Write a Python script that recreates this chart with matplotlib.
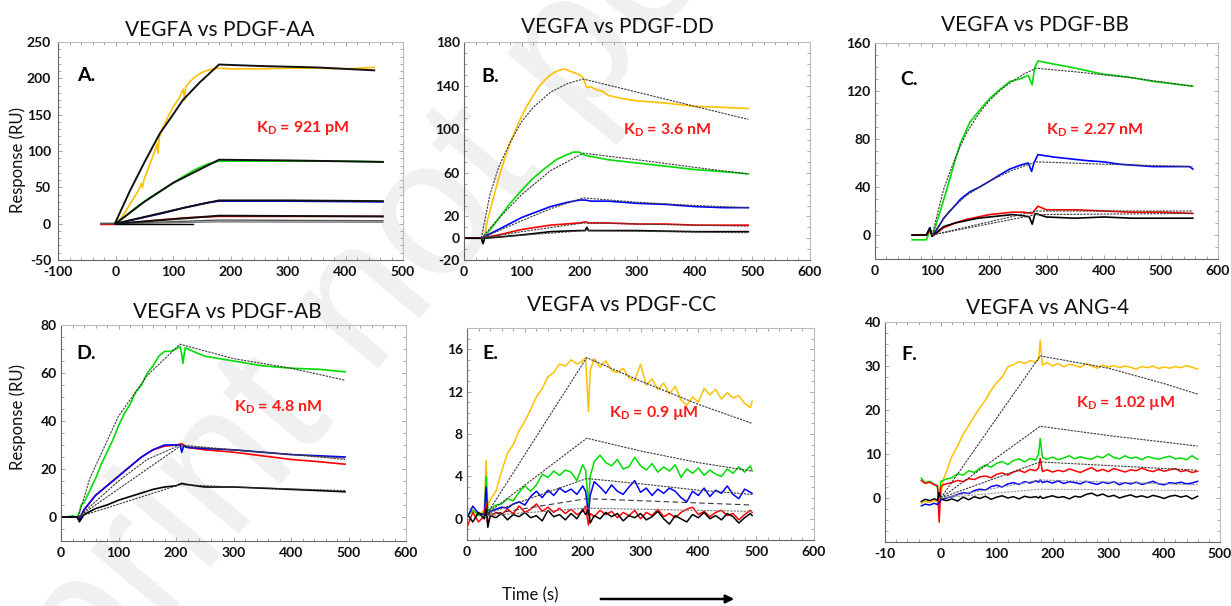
import matplotlib
matplotlib.use('Agg')
import matplotlib.pyplot as plt
from matplotlib.ticker import MultipleLocator, FixedLocator, FixedFormatter

plt.rcParams['font.family'] = ['Lato', 'DejaVu Sans']

YEL, GRN, BLU, RED, BLK = '#FFC000', '#00DD00', '#0000FF', '#FF0000', '#000000'

# ---------------- Panel A: VEGFA vs PDGF-AA ----------------
a_yel_t = [-25,-10,0,10,20,30,40,45,47,50,60,70,72,74,76,80,90,100,110,118,120,122,130,140,150,160,170,180,200,250,300,350,400,450]
a_yel_r = [0,0,0,8,20,33,46,55,50,62,82,104,110,97,118,128,145,160,172,185,170,188,196,203,208,211,213,214,213,213,214,214,213,215]
a_yel_fit_t = [0,25,50,77,100,117,146,180,250,350,450]
a_yel_fit_r = [2,45,84,124,150,170,194,219,217,215,211]
a_grn_t = [-25,0,20,40,60,80,100,120,140,160,180,200,300,400,465]
a_grn_r = [0,0,12,25,36,46,56,66,75,82,86,86,86,86,85]
a_grn_fit_t = [0,50,100,150,180,300,465]
a_grn_fit_r = [0,30,56,76,88,87,85]
a_blu_t = [-25,0,40,80,120,160,180,300,465]
a_blu_r = [0,0,7,14,22,29,31,31,30]
a_blu_fit_t = [0,60,120,180,300,465]
a_blu_fit_r = [0,11,22,32,32,31]
a_red_t = [-25,0,60,120,180,300,465]
a_red_r = [-1,-1,4,8,10,10,10]
a_red_fit_t = [0,180,465]
a_red_fit_r = [0,11,10]
a_low1_t = [-25,0,180,465]
a_low1_r = [0,0,5,4]
a_low2_t = [0,180,465]
a_low2_r = [0,2.5,2]
a_flat_t = [0,135]
a_flat_r = [0,0]

# ---------------- Panel B: VEGFA vs PDGF-DD ----------------
b_yel_t = [0,30,33,36,40,50,60,70,80,90,100,110,120,130,140,150,160,170,175,180,190,200,207,210,213,220,230,240,250,275,300,350,400,450,493]
b_yel_r = [0,0,-5,2,15,35,55,72,87,100,112,122,131,139,145,150,153,155,155,154,152,150,147,142,138,139,136,135,131,128,126,124,121,120,119]
b_yel_fit_t = [30,45,60,80,100,120,150,180,207,300,400,493]
b_yel_fit_r = [0,40,65,88,107,120,134,142,146,134,121,109]
b_grn_t = [0,30,33,40,60,80,100,120,140,160,180,190,200,207,210,220,250,300,350,400,450,493]
b_grn_r = [0,0,-1,4,18,32,44,55,64,72,77,79,79,77,76,75,72,69,66,63,61,59]
b_grn_fit_t = [30,60,100,150,207,300,400,493]
b_grn_fit_r = [0,18,40,62,78,72,65,59]
b_blu_t = [0,30,60,100,150,180,200,210,220,250,300,350,400,450,493]
b_blu_r = [0,0,8,19,29,33,35,35,34,34,32,31,29,28,28]
b_blu_fit_t = [30,100,150,207,300,400,493]
b_blu_fit_r = [0,16,27,37,33,30,28]
b_red_t = [0,30,60,100,150,200,212,215,250,300,350,400,450,493]
b_red_r = [0,0,3,8,12,14,15,14,14,13,13,12,12,12]
b_red_fit_t = [30,100,207,300,493]
b_red_fit_r = [0,6,14,13,11]
b_blk_t = [0,30,33,36,60,100,150,200,210,213,216,230,300,400,493]
b_blk_r = [0,0,-5,0,1,3,6,7,7,10,7,7,7,6,6]
b_blk_fit_t = [30,210,493]
b_blk_fit_r = [0,7,5]

# ---------------- Panel C: VEGFA vs PDGF-BB ----------------
c_grn_t = [65,90,96,100,105,113,125,137,149,166,183,201,218,236,253,268,275,279,285,312,341,370,399,428,457,486,521,556]
c_grn_r = [-4,-4,4,-1,6,18,37,57,76,94,104,114,121,128,130,133,125,139,145,142.5,140,137,134,132.5,130.5,128,126,124]
c_grn_fit_t = [100,120,140,160,180,200,220,240,260,282,350,450,556]
c_grn_fit_r = [0,38,64,85,100,112,121,128,134,139,136,131,124]
c_blu_t = [65,90,96,100,110,120,137,150,166,183,201,218,236,253,268,274,278,285,312,341,370,399,428,457,486,521,550,556]
c_blu_r = [0,0,6,-1,6,14,23,30,36,40,45,50,55,58,60,53,60,67,65,63.5,62,61,59,58,57,57,57,55]
c_blu_fit_t = [100,130,160,200,240,282,400,556]
c_blu_fit_r = [0,20,33,45,54,61,59,57]
c_red_t = [65,90,96,100,120,140,160,180,200,220,240,260,275,285,300,350,400,450,500,556]
c_red_r = [0,0,4,-1,6,10,13,15,17,18,19,19,18,24,21,21,20,19,19,18]
c_red_fit_t = [100,282,556]
c_red_fit_r = [0,20,20]
c_blk_t = [65,90,96,100,120,140,160,180,200,220,240,260,270,275,280,300,350,400,450,500,556]
c_blk_r = [0,0,6,-1,7,10,12,14,15,16,17,16,15,9,18,15,14,15,14,14,14]
c_blk_fit_t = [100,282,556]
c_blk_fit_r = [0,17,18]

# ---------------- Panel D: VEGFA vs PDGF-AB ----------------
d_grn_t = [0,10,20,28,32,35,40,50,60,70,80,90,100,110,120,130,140,150,160,170,180,190,200,207,210,212,216,230,250,300,350,400,450,494]
d_grn_r = [0,0,0.5,0,2,5,6,11,16,22,27,32,38,43,47,52,55,60,63,67,69,69,70,71,68,64,70.5,69,67,65,63,62,61.5,60.5]
d_grn_fit_t = [30,50,100,150,207,300,400,494]
d_grn_fit_r = [0,16,42,59,72,66,62,57]
d_blu_t = [0,20,28,32,40,60,80,100,120,140,160,180,200,207,210,213,220,250,300,350,400,450,494]
d_blu_r = [0,0,0,-1,3,9,13,17,21,25,28,30,30,30,27,29.5,29,28.5,28,27,26,25.5,25]
d_red_t = [0,20,28,32,40,60,80,100,120,140,160,180,200,210,220,250,300,350,400,450,494]
d_red_r = [0,0,0,-1,3,9,13,17,21,25,28,29.5,30,30.5,29,28,27,25.5,24,23,22]
d_mid_fit1_t = [30,100,150,207,300,400,494]
d_mid_fit1_r = [0,15,24,30,28,26,24]
d_mid_fit2_t = [30,207,494]
d_mid_fit2_r = [0,29.5,24.5]
d_blk_t = [0,20,28,32,40,60,80,100,120,140,160,180,200,210,220,250,300,350,400,450,494]
d_blk_r = [0,0,0,-2,1,3.5,5,7,8.5,10,11.5,12.5,13,14,13.5,12.5,12.5,12,11.5,11,10.5]
d_blk_fit_t = [30,207,300,494]
d_blk_fit_r = [0,13.5,12.5,11]

# ---------------- Panel E: VEGFA vs PDGF-CC ----------------
e_t = [0,10,20,30,33,36,40,50,60,70,80,90,100,110,120,130,140,150,160,170,180,190,200,205,210,213,
       220,230,240,250,260,270,280,290,300,310,320,330,340,350,360,370,380,390,400,410,420,430,440,450,460,470,480,490,493]
e_yel = [0.3,0.9,0.4,0.8,5.5,1.2,1.8,2.6,4.5,6.2,7.0,8.3,9.2,10.3,11.5,12.3,13.4,13.8,14.6,14.4,15.0,14.6,14.9,15.2,10.1,14.0,
         15.1,14.3,14.9,14.0,13.8,14.2,13.3,13.0,14.6,12.6,13.2,12.2,12.8,11.8,12.5,11.2,10.7,11.5,11.0,12.3,11.7,12.2,11.3,11.9,11.4,11.6,10.9,10.5,11.1]
e_grn = [0.2,0.8,0.3,0.6,4.0,0.8,0.9,1.3,1.4,1.9,1.7,2.5,3.1,2.6,3.2,4.2,3.9,4.5,4.1,4.6,4.4,3.6,5.1,4.6,1.3,4.0,
         5.4,6.0,5.3,5.0,5.6,4.7,4.9,5.8,5.0,4.6,5.2,4.4,4.9,4.5,5.1,3.9,4.7,4.3,4.8,4.1,4.6,4.2,4.0,4.7,4.3,4.9,4.4,5.0,4.5]
e_blu = [0.1,1.2,0.5,0.4,3.0,0.3,0.7,0.9,1.1,1.0,1.4,1.6,1.3,2.1,2.6,2.0,2.7,2.2,2.9,2.5,2.8,2.3,3.1,2.6,0.4,2.2,
         3.5,3.0,2.4,3.2,2.6,2.3,3.0,3.6,2.5,2.9,2.2,2.8,2.4,2.9,2.6,2.0,1.6,2.6,2.2,2.9,2.1,2.7,2.4,3.1,2.3,1.9,2.8,2.5,2.4]
e_red = [-0.8,0.6,-0.3,0.3,1.5,-0.5,0.2,0.6,0.4,0.9,0.5,1.2,0.6,0.9,1.4,0.7,1.1,0.6,1.0,0.5,0.9,0.4,0.7,1.2,-0.6,0.5,
         0.2,0.8,0.4,0.7,0.1,0.6,0.3,0.8,0.0,0.6,0.3,0.9,0.2,0.5,0.1,0.6,0.9,1.1,0.4,0.7,0.2,0.6,0.8,0.3,0.5,-0.1,0.4,0.8,0.6]
e_blk = [0.5,-0.3,0.6,0.0,0.9,-0.8,0.3,0.1,0.5,-0.1,0.4,0.2,0.6,0.1,0.3,-0.2,0.8,0.2,0.4,-0.1,0.5,0.0,0.9,0.4,0.8,-0.4,
         0.3,0.0,0.6,0.2,0.5,-0.2,0.3,0.1,0.5,-0.1,0.2,0.7,0.0,-0.5,0.3,0.0,-0.3,0.4,0.1,0.6,0.0,0.3,-0.1,0.5,0.2,-0.4,0.1,0.5,0.3]
e_fit_t = [35,207,300,400,493]
e_yel_fit = [0.5,15.2,13.0,10.8,9.0]
e_grn_fit = [0.5,7.6,6.4,5.3,4.5]
e_blu_fit = [0.5,3.8,3.3,2.7,2.3]
e_low_fit_t = [35,207,493]
e_red_fit = [0.4,1.9,1.3]
e_blk_fit = [0.3,1.0,0.7]

# ---------------- Panel F: VEGFA vs ANG-4 ----------------
f_t = [-35,-28,-20,-12,-6,-3,0,4,10,
       20,30,40,50,60,70,80,90,100,110,120,130,140,150,160,170,
       175,178,182,190,
       200,210,220,230,240,250,260,270,280,290,300,310,320,330,340,350,360,370,380,390,400,410,420,430,440,450,460]
f_yel = [-1.2,-0.8,-1.0,-0.6,-1.0,-1.5,0.5,4.0,6.0,
         9.5,11.8,14.5,16.5,18.6,20.5,22.3,24.5,26.2,27.5,29.8,30.3,31.0,30.6,31.2,30.9,
         31.5,35.8,30.2,30.8,
         30.0,30.6,29.8,30.4,30.1,29.7,30.5,30.0,29.5,30.2,29.8,30.1,29.6,30.0,29.7,29.3,29.9,29.6,30.0,29.4,29.8,29.5,29.9,29.6,30.1,29.7,29.3]
f_grn = [4.5,3.5,3.8,3.2,2.5,0.0,3.8,4.0,4.3,
         4.6,5.5,5.2,6.2,5.8,6.8,7.5,7.0,7.9,8.3,7.6,8.5,8.9,8.2,9.0,8.6,
         10.0,13.5,9.2,8.8,
         9.3,8.7,9.1,9.6,8.9,9.4,9.0,8.8,9.5,9.1,10.0,9.2,8.9,9.6,9.0,9.3,8.7,9.4,9.1,8.8,9.2,9.5,8.9,9.1,8.7,9.6,8.8]
f_red = [4.0,3.3,3.6,3.0,2.8,-5.5,2.5,3.0,3.2,
         3.5,4.0,3.7,4.4,4.2,4.8,5.0,4.6,5.4,5.7,5.2,5.9,6.3,5.8,6.5,6.2,
         6.8,9.0,6.0,6.4,
         5.9,6.3,6.0,6.6,6.2,5.8,6.4,6.9,6.1,6.5,6.0,6.7,6.3,5.9,6.4,6.2,6.8,6.3,6.0,6.5,6.1,6.4,6.7,6.0,6.3,5.8,6.1]
f_blu = [-1.8,-1.4,-1.6,-1.2,-1.5,-1.0,-0.5,-0.2,0.0,
         0.3,0.8,1.2,1.0,1.7,2.0,1.8,2.6,2.9,2.5,3.2,3.5,3.1,3.7,3.4,3.9,
         3.6,4.1,3.5,3.8,
         3.4,3.9,3.3,3.7,3.5,3.2,3.8,3.4,3.1,3.6,3.3,3.7,3.0,3.5,3.2,3.6,3.1,3.4,3.8,3.2,3.0,3.5,3.3,3.6,3.2,3.4,3.8]
f_blk = [-0.8,-0.3,-0.6,-0.2,-0.5,1.2,0.0,-0.4,-0.6,
         -0.2,-0.7,0.2,-0.4,0.3,-0.1,0.4,-0.3,0.2,0.5,0.0,0.3,-0.2,0.4,0.1,0.3,
         0.0,0.4,-0.1,0.2,
         0.5,0.1,0.3,-0.2,0.4,0.2,0.8,1.1,0.5,0.9,0.3,0.6,0.0,0.4,0.7,0.2,0.5,0.1,0.6,0.3,-0.1,0.4,0.6,0.2,0.5,-0.2,0.4]
f_yel_fit_t = [0,178,300,400,460]
f_yel_fit = [0,32.3,29.5,26.0,23.6]
f_grn_fit_t = [0,178,300,460]
f_grn_fit = [0,16.3,14.2,11.8]
f_low_fit_t = [0,178,460]
f_red_fit = [0,8.2,6.3]
f_blu_fit = [0,4.1,3.0]
f_blk_fit = [0,2.0,1.7]

titles = ['VEGFA vs PDGF-AA', 'VEGFA vs PDGF-DD', 'VEGFA vs PDGF-BB',
          'VEGFA vs PDGF-AB', 'VEGFA vs PDGF-CC', 'VEGFA vs ANG-4']
letters = ['A.', 'B.', 'C.', 'D.', 'E.', 'F.']
kd_texts = ['921 pM', '3.6 nM', '2.27 nM', '4.8 nM', '0.9 \u00b5M', '1.02 \u00b5M']
watermark = 'Preprint not peer reviewed'

W, H = 1231, 606
fig = plt.figure(figsize=(W / 100, H / 100), dpi=100)

# faint diagonal watermark behind everything else
fig.text(-103 / W, 1 - 941 / H, watermark, rotation=50, rotation_mode='anchor',
         ha='left', va='baseline', fontsize=140, color='#f0f0f0',
         family=['Liberation Sans', 'DejaVu Sans'], zorder=-10)


def add_ax(l, r, t, b):
    ax = fig.add_axes([l / W, 1 - b / H, (r - l) / W, (b - t) / H])
    ax.patch.set_alpha(0)
    return ax


def style(ax, xlim, ylim, xt, xl, yt, yl, xmin, ymin, ypad=3):
    ax.set_xlim(*xlim)
    ax.set_ylim(*ylim)
    ax.xaxis.set_major_locator(FixedLocator(xt))
    ax.xaxis.set_major_formatter(FixedFormatter(xl))
    ax.yaxis.set_major_locator(FixedLocator(yt))
    ax.yaxis.set_major_formatter(FixedFormatter(yl))
    ax.xaxis.set_minor_locator(MultipleLocator(xmin))
    ax.yaxis.set_minor_locator(MultipleLocator(ymin))
    ax.tick_params(which='both', direction='in', top=True, right=True, colors='#999999',
                   labelcolor='#111111', labelsize=10)
    ax.tick_params(axis='x', which='major', pad=4)
    ax.tick_params(axis='y', which='major', pad=ypad)
    ax.tick_params(which='major', length=3, width=0.6)
    ax.tick_params(which='minor', length=2, width=0.6)
    for lab in ax.get_xticklabels() + ax.get_yticklabels():
        lab.set_fontweight('bold')
    for s in ['left', 'bottom']:
        ax.spines[s].set_color('#666666')
    for s in ['top', 'right']:
        ax.spines[s].set_color('#bbbbbb')
    for s in ax.spines.values():
        s.set_linewidth(0.8)


def data(ax, t, r, c, lw=1.2):
    ax.plot(t, r, color=c, lw=lw, zorder=2)


def fit(ax, t, r, c='#3a3a3a', lw=0.8, ls=(0, (2, 1))):
    ax.plot(t, r, color=c, lw=lw, ls=ls, zorder=3)


def annotate(ax, i, lx, ly, kx, ky):
    ax.text(lx, ly, letters[i], transform=ax.transAxes, fontsize=14, fontweight='bold',
            va='center', ha='left', color='black')
    ax.text(kx, ky, r'K$_\mathregular{D}$ = ' + kd_texts[i], transform=ax.transAxes,
            fontsize=11.5, fontweight='bold', va='center', ha='left', color='#ff1a1a')


# Panel A
axA = add_ax(58, 403, 42, 260)
data(axA, a_yel_t, a_yel_r, YEL)
data(axA, a_grn_t, a_grn_r, GRN)
data(axA, a_blu_t, a_blu_r, BLU)
data(axA, a_red_t, a_red_r, RED)
data(axA, a_low1_t, a_low1_r, '#555555', 1.0)
data(axA, a_low2_t, a_low2_r, '#777777', 1.0)
data(axA, a_flat_t, a_flat_r, BLK, 1.0)
for t, r in [(a_yel_fit_t, a_yel_fit_r), (a_grn_fit_t, a_grn_fit_r),
             (a_blu_fit_t, a_blu_fit_r), (a_red_fit_t, a_red_fit_r)]:
    fit(axA, t, r, c='#111111', lw=1.4, ls='-')
style(axA, (-100, 500), (-50, 250), list(range(-100, 501, 100)),
      [str(v) for v in range(-100, 501, 100)], list(range(-50, 251, 50)),
      [str(v) for v in range(-50, 251, 50)], 20, 10, ypad=5)
annotate(axA, 0, 0.055, 0.845, 0.575, 0.605)

# Panel B
axB = add_ax(464, 810, 42, 260)
data(axB, b_yel_t, b_yel_r, YEL)
data(axB, b_grn_t, b_grn_r, GRN)
data(axB, b_blu_t, b_blu_r, BLU)
data(axB, b_red_t, b_red_r, RED)
data(axB, b_blk_t, b_blk_r, BLK)
for t, r in [(b_yel_fit_t, b_yel_fit_r), (b_grn_fit_t, b_grn_fit_r), (b_blu_fit_t, b_blu_fit_r),
             (b_red_fit_t, b_red_fit_r), (b_blk_fit_t, b_blk_fit_r)]:
    fit(axB, t, r)
b_yt = [-20, 0, 20, 60, 100, 140, 180]
style(axB, (0, 600), (-20, 180), list(range(0, 601, 100)), [str(v) for v in range(0, 601, 100)],
      b_yt, [str(v) for v in b_yt], 20, 10)
annotate(axB, 1, 0.05, 0.84, 0.46, 0.596)

# Panel C
axC = add_ax(875, 1218, 43, 259)
data(axC, c_grn_t, c_grn_r, GRN)
data(axC, c_blu_t, c_blu_r, BLU)
data(axC, c_red_t, c_red_r, RED)
data(axC, c_blk_t, c_blk_r, BLK)
for t, r in [(c_grn_fit_t, c_grn_fit_r), (c_blu_fit_t, c_blu_fit_r),
             (c_red_fit_t, c_red_fit_r), (c_blk_fit_t, c_blk_fit_r)]:
    fit(axC, t, r)
style(axC, (0, 600), (-20, 160), list(range(0, 601, 100)), [str(v) for v in range(0, 601, 100)],
      list(range(0, 161, 40)), [str(v) for v in range(0, 161, 40)], 20, 10)
annotate(axC, 2, 0.075, 0.83, 0.50, 0.597)

# Panel D
axD = add_ax(61, 406, 325, 541)
data(axD, d_grn_t, d_grn_r, GRN)
data(axD, d_red_t, d_red_r, RED)
data(axD, d_blu_t, d_blu_r, BLU)
data(axD, d_blk_t, d_blk_r, BLK)
for t, r in [(d_grn_fit_t, d_grn_fit_r), (d_mid_fit1_t, d_mid_fit1_r),
             (d_mid_fit2_t, d_mid_fit2_r), (d_blk_fit_t, d_blk_fit_r)]:
    fit(axD, t, r)
style(axD, (0, 600), (-10, 80), list(range(0, 601, 100)), [str(v) for v in range(0, 601, 100)],
      list(range(0, 81, 20)), [str(v) for v in range(0, 81, 20)], 20, 5)
annotate(axD, 3, 0.045, 0.87, 0.50, 0.62)

# Panel E
axE = add_ax(467, 814, 328, 540)
data(axE, e_t, e_yel, YEL, 1.1)
data(axE, e_t, e_grn, GRN, 1.1)
data(axE, e_t, e_blu, BLU, 1.1)
data(axE, e_t, e_red, RED, 1.1)
data(axE, e_t, e_blk, BLK, 1.1)
for t, r in [(e_fit_t, e_yel_fit), (e_fit_t, e_grn_fit), (e_fit_t, e_blu_fit)]:
    fit(axE, t, r)
fit(axE, e_low_fit_t, e_red_fit, ls=(0, (5, 3)))
fit(axE, e_low_fit_t, e_blk_fit, c='#777777')
style(axE, (0, 600), (-2, 18), list(range(0, 601, 100)), [str(v) for v in range(0, 601, 100)],
      list(range(0, 17, 4)), [str(v) for v in range(0, 17, 4)], 20, 1)
annotate(axE, 4, 0.045, 0.88, 0.41, 0.60)

# Panel F
axF = add_ax(885, 1220, 322, 542)
data(axF, f_t, f_yel, YEL, 1.1)
data(axF, f_t, f_grn, GRN, 1.1)
data(axF, f_t, f_red, RED, 1.1)
data(axF, f_t, f_blu, BLU, 1.1)
data(axF, f_t, f_blk, BLK, 1.1)
fit(axF, f_yel_fit_t, f_yel_fit)
fit(axF, f_grn_fit_t, f_grn_fit)
fit(axF, f_low_fit_t, f_red_fit)
fit(axF, f_low_fit_t, f_blu_fit, c='#888888')
fit(axF, f_low_fit_t, f_blk_fit, c='#999999')
f_xl = ['-10', '0', '100', '200', '300', '400', '500']
style(axF, (-100, 500), (-10, 40), list(range(-100, 501, 100)), f_xl,
      list(range(0, 41, 10)), [str(v) for v in range(0, 41, 10)], 20, 2.5)
annotate(axF, 5, 0.05, 0.85, 0.57, 0.63)

# Titles
title_pos = [(220, 30), (617, 27), (1035, 25), (227, 312), (622, 305), (1048, 308)]
for (x, y), tt in zip(title_pos, titles):
    fig.text(x / W, 1 - y / H, tt, ha='center', va='center', fontsize=15, color='#111111')

# Y labels
for y in [160, 417]:
    fig.text(18 / W, 1 - y / H, 'Response (RU)', rotation=90, ha='center', va='center',
             fontsize=12, color='#111111')

# Time label and arrow
fig.text(530 / W, 1 - 595 / H, 'Time (s)', ha='center', va='center', fontsize=12, color='#111111')
fig.patches.append(matplotlib.patches.FancyArrowPatch(
    (598 / W, 1 - 599 / H), (737 / W, 1 - 599 / H), transform=fig.transFigure,
    arrowstyle='-|>', mutation_scale=12, lw=1.8, color='black'))

fig.savefig('out.png', dpi=100, facecolor='white')
